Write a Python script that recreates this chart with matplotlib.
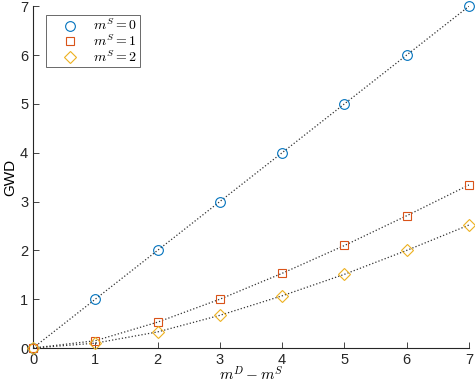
import matplotlib
matplotlib.use("Agg")
import matplotlib.pyplot as plt

plt.rcParams["font.family"] = ["Liberation Sans", "DejaVu Sans"]
plt.rcParams["mathtext.fontset"] = "cm"

x = [0, 1, 2, 3, 4, 5, 6, 7]
gwd_ms0 = [0, 1, 2, 3, 4, 5, 6, 7]
gwd_ms1 = [0, 0.15, 0.53, 1.0, 1.53, 2.1, 2.71, 3.34]
gwd_ms2 = [0, 0.1, 0.33, 0.67, 1.07, 1.51, 2.0, 2.52]
labels = [r"$m^S=0$", r"$m^S=1$", r"$m^S=2$"]

colors = ["#0072BD", "#D95319", "#EDB120"]
markers = ["o", "s", "D"]
sizes = [7, 6, 6]

fig = plt.figure(figsize=(4.75, 3.85), dpi=100)
ax = fig.add_axes([0.0695, 0.096, 0.918, 0.888])

for ys, c, m, s, lab in zip([gwd_ms0, gwd_ms1, gwd_ms2], colors, markers, sizes, labels):
    ax.plot(x, ys, ls=":", color="#333333", lw=0.9, zorder=2)
    ax.plot(x, ys, ls="none", marker=m, markersize=s,
            markerfacecolor="none", markeredgecolor=c, markeredgewidth=0.8,
            label=lab, zorder=3, clip_on=False)

ax.set_xlim(0, 7)
ax.set_ylim(0, 7)
ax.set_xticks(range(8))
ax.set_yticks(range(8))
for side in ["top", "right"]:
    ax.spines[side].set_visible(False)
for side in ["left", "bottom"]:
    ax.spines[side].set_color("#262626")
    ax.spines[side].set_linewidth(0.8)
ax.tick_params(direction="in", length=4, width=0.6, colors="#262626", labelsize=10.5)
ax.set_xlabel(r"$m^D-m^S$", fontsize=11, labelpad=-1)
ax.set_ylabel("GWD", fontsize=11, labelpad=2)

leg = ax.legend(loc="upper left", bbox_to_anchor=(0.03, 0.974), fontsize=10,
                frameon=True, fancybox=False, edgecolor="#262626",
                handletextpad=0.2, borderpad=0.2, labelspacing=0.0,
                handlelength=3.0, borderaxespad=0)
leg.get_frame().set_linewidth(0.6)

fig.savefig("out.png", dpi=100)
